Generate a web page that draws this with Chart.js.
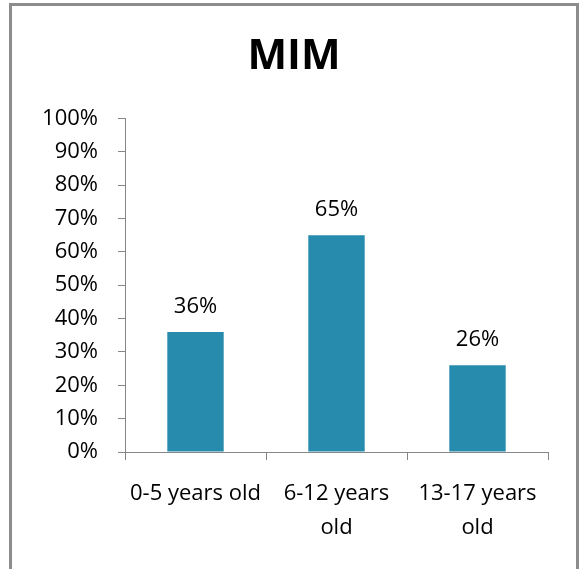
<!DOCTYPE html>
<html>
<head>
<meta charset="utf-8">
<script src="https://cdn.jsdelivr.net/npm/chart.js@4/dist/chart.umd.min.js"></script>
<style>
  html, body { margin: 0; padding: 0; background: #ffffff; }
  #wrap { position: relative; width: 580px; height: 569px; overflow: hidden; }
  #frame { position: absolute; left: 9px; top: 3px; width: 570px; height: 700px; box-sizing: border-box; border: 3px solid #8c8c8c; }
  #c { position: absolute; left: 0; top: 0; }
</style>
</head>
<body>
<div id="wrap">
  <div id="frame"></div>
  <canvas id="c" width="580" height="569"></canvas>
</div>
<script>
const titleText = "MIM";
const categories = [["0-5 years old"], ["6-12 years", "old"], ["13-17 years", "old"]];
const values = [36, 65, 26];
const yTicks = [0, 10, 20, 30, 40, 50, 60, 70, 80, 90, 100];

const barColor = "#268bad";
const axisColor = "#868686";
const fontFamily = "'Open Sans', sans-serif";

const valueLabels = {
  id: "valueLabels",
  afterDatasetsDraw(chart) {
    const ctx = chart.ctx;
    const meta = chart.getDatasetMeta(0);
    ctx.save();
    ctx.font = "22px " + fontFamily;
    ctx.fillStyle = "#000000";
    ctx.textAlign = "center";
    ctx.textBaseline = "alphabetic";
    meta.data.forEach((bar, i) => {
      ctx.fillText(values[i] + "%", bar.x, bar.y - 19);
    });
    ctx.restore();
  }
};

new Chart(document.getElementById("c"), {
  type: "bar",
  data: {
    labels: categories,
    datasets: [{
      data: values,
      backgroundColor: barColor,
      borderWidth: 0,
      categoryPercentage: 1,
      barPercentage: 0.4
    }]
  },
  options: {
    responsive: false,
    animation: false,
    events: [],
    layout: { padding: { left: 40, right: 32, top: 0, bottom: 0 } },
    plugins: {
      legend: { display: false },
      tooltip: { enabled: false },
      title: {
        display: true,
        text: titleText,
        color: "#000000",
        font: { family: fontFamily, size: 42, weight: "bold", lineHeight: 1.2 },
        padding: { top: 32, bottom: 36 }
      }
    },
    scales: {
      x: {
        grid: { display: true, drawOnChartArea: false, drawTicks: true, tickLength: 8, color: axisColor, offset: true },
        border: { display: true, color: axisColor, width: 1 },
        ticks: { color: "#000000", font: { family: fontFamily, size: 22, lineHeight: 1.55 }, padding: 17, maxRotation: 0, autoSkip: false },
        afterFit(scale) { scale.height = 117; }
      },
      y: {
        min: 0,
        max: 100,
        afterBuildTicks(scale) { scale.ticks = yTicks.map(v => ({ value: v })); },
        grid: { display: true, drawOnChartArea: false, drawTicks: true, tickLength: 7, color: axisColor },
        border: { display: true, color: axisColor, width: 1 },
        ticks: { color: "#000000", font: { family: fontFamily, size: 22 }, padding: 20, callback: v => v + "%" },
        afterFit(scale) { scale.width = 85; }
      }
    }
  },
  plugins: [valueLabels]
});
</script>
</body>
</html>
